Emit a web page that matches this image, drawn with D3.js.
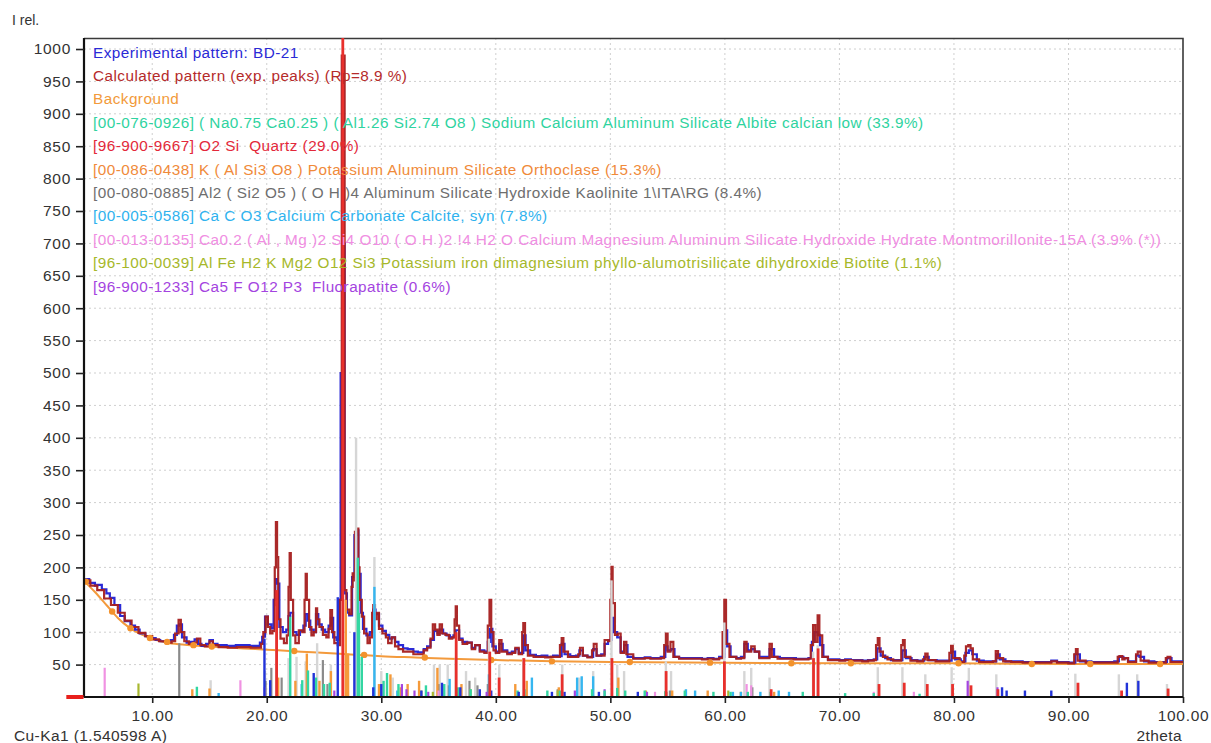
<!DOCTYPE html>
<html><head><meta charset="utf-8">
<script src="https://cdn.jsdelivr.net/npm/d3@7"></script>
<style>
html,body{margin:0;padding:0;background:#fff;}
svg{display:block;font-family:"Liberation Sans",Arial,sans-serif;}
</style></head>
<body><svg id="c" width="1211" height="743"></svg>
<script>
// ---------- DATA ----------
const legendLabels = [
  "Experimental pattern: BD-21",
  "Calculated pattern (exp. peaks) (Rp=8.9 %)",
  "Background",
  "[00-076-0926] ( Na0.75 Ca0.25 ) ( Al1.26 Si2.74 O8 ) Sodium Calcium Aluminum Silicate Albite calcian low (33.9%)",
  "[96-900-9667] O2 Si  Quartz (29.0%)",
  "[00-086-0438] K ( Al Si3 O8 ) Potassium Aluminum Silicate Orthoclase (15.3%)",
  "[00-080-0885] Al2 ( Si2 O5 ) ( O H )4 Aluminum Silicate Hydroxide Kaolinite 1\\ITA\\RG (8.4%)",
  "[00-005-0586] Ca C O3 Calcium Carbonate Calcite, syn (7.8%)",
  "[00-013-0135] Ca0.2 ( Al , Mg )2 Si4 O10 ( O H )2 !4 H2 O Calcium Magnesium Aluminum Silicate Hydroxide Hydrate Montmorillonite-15A (3.9% (*))",
  "[96-100-0039] Al Fe H2 K Mg2 O12 Si3 Potassium iron dimagnesium phyllo-alumotrisilicate dihydroxide Biotite (1.1%)",
  "[96-900-1233] Ca5 F O12 P3  Fluorapatite (0.6%)"
];
const legendColors = ["#2a2ad6","#b52a2a","#f29a3a","#2fd3a0","#e3283a","#f08a3a","#6e6e6e","#2fb2ee","#f08ee2","#a6b82a","#a444e0"];

const yTicks = [50,100,150,200,250,300,350,400,450,500,550,600,650,700,750,800,850,900,950,1000];
const xTicks = [10,20,30,40,50,60,70,80,90,100];

// experimental pattern [2theta, I]
const expPattern = [[4.0,182],[4.5,176],[5.0,172],[5.2,173],[5.6,166],[6.0,160],[6.3,153],[6.7,142],[7.2,125],[7.6,117],[8.1,110],[8.5,104],[8.9,98],[9.4,94],[9.8,91],[10.3,88],[10.7,86],[11.2,85],[11.6,88],[11.9,96],[12.15,110],[12.35,112],[12.6,92],[13.0,84],[13.4,85],[13.7,89],[14.0,82],[14.3,79],[14.7,82],[15.0,88],[15.3,82],[15.7,80],[16.5,79],[17.3,80],[17.8,80],[18.5,79],[19.1,79],[19.4,84],[19.6,93],[19.85,124],[20.1,112],[20.4,106],[20.6,150],[20.75,182],[20.9,175],[21.1,108],[21.4,100],[21.7,104],[21.9,125],[22.05,130],[22.3,100],[22.6,96],[22.9,102],[23.2,110],[23.4,128],[23.6,118],[23.8,104],[24.1,100],[24.3,128],[24.5,112],[24.8,104],[25.1,100],[25.4,110],[25.6,122],[25.8,92],[26.1,88],[26.3,150],[26.45,500],[26.58,985],[26.7,700],[26.8,160],[27.0,130],[27.2,126],[27.45,185],[27.65,250],[27.85,257],[28.0,190],[28.2,130],[28.4,105],[28.7,95],[29.0,100],[29.3,135],[29.5,128],[29.8,110],[30.1,102],[30.4,96],[30.7,90],[30.95,92],[31.2,85],[31.5,80],[31.9,75],[32.3,74],[32.8,70],[33.2,69],[33.7,74],[34.0,78],[34.3,88],[34.6,102],[34.9,98],[35.1,104],[35.4,98],[35.7,95],[36.0,92],[36.3,95],[36.5,103],[36.8,90],[37.1,85],[37.5,84],[37.9,76],[38.2,80],[38.6,72],[39.0,70],[39.3,85],[39.5,105],[39.7,78],[40.0,70],[40.3,82],[40.6,72],[41.0,68],[41.4,70],[41.7,74],[42.0,68],[42.4,95],[42.6,72],[43.0,65],[43.5,63],[44.0,64],[44.5,62],[45.0,64],[45.4,63],[45.75,82],[46.0,66],[46.5,63],[47.0,64],[47.3,72],[47.6,64],[48.0,62],[48.5,74],[48.8,64],[49.2,66],[49.5,82],[49.8,88],[50.1,122],[50.3,100],[50.6,92],[50.9,70],[51.2,80],[51.5,62],[52.0,60],[52.5,60],[53.0,61],[53.5,60],[54.0,60],[54.4,62],[54.8,78],[55.0,72],[55.3,74],[55.6,62],[56.0,60],[56.5,60],[57.0,60],[57.5,60],[58.0,59],[58.5,60],[59.0,59],[59.5,62],[59.95,103],[60.2,78],[60.5,62],[61.0,60],[61.4,62],[61.7,82],[62.0,72],[62.3,74],[62.6,70],[63.0,62],[63.5,62],[63.9,74],[64.3,62],[64.8,60],[65.5,60],[66.2,59],[66.8,59],[67.3,60],[67.6,85],[67.8,100],[68.1,96],[68.3,80],[68.6,62],[69.0,58],[69.5,58],[70.0,57],[70.5,58],[71.0,57],[71.5,57],[72.0,56],[72.5,57],[73.0,58],[73.3,75],[73.6,64],[74.0,60],[74.5,57],[75.0,57],[75.5,72],[75.8,60],[76.3,57],[76.8,56],[77.4,62],[77.8,57],[78.5,56],[79.2,56],[79.8,70],[80.1,58],[80.6,55],[81.0,68],[81.3,72],[81.6,66],[82.0,56],[82.6,55],[83.2,55],[83.7,66],[84.0,58],[84.5,55],[85.0,55],[86.0,54],[87.0,54],[88.0,54],[88.5,56],[89.0,54],[90.0,53],[90.6,66],[91.0,55],[92.0,54],[93.0,54],[94.0,55],[94.4,62],[94.8,60],[95.2,55],[95.9,64],[96.2,62],[96.6,55],[97.5,54],[98.6,60],[99.0,55],[100.0,54]];

// calculated pattern [2theta, I]
const calcPattern = [[4.0,180],[4.6,172],[5.2,165],[5.8,152],[6.4,142],[7.0,130],[7.6,118],[8.2,108],[8.8,99],[9.4,94],[10.0,89],[10.6,86],[11.2,84],[11.7,86],[12.0,98],[12.3,119],[12.5,100],[12.8,86],[13.2,82],[13.6,84],[13.9,90],[14.2,80],[14.6,78],[15.0,86],[15.3,80],[15.8,77],[16.6,76],[17.4,77],[17.9,77],[18.6,76],[19.2,76],[19.5,82],[19.7,100],[19.9,124],[20.1,108],[20.3,98],[20.5,102],[20.7,200],[20.8,270],[20.9,216],[21.0,120],[21.2,90],[21.5,83],[21.75,95],[21.9,170],[22.0,222],[22.1,150],[22.3,95],[22.5,83],[22.8,103],[23.1,100],[23.3,150],[23.4,190],[23.5,150],[23.7,108],[23.9,95],[24.1,100],[24.3,137],[24.4,120],[24.6,108],[24.9,96],[25.2,92],[25.4,105],[25.55,134],[25.7,100],[25.9,83],[26.2,80],[26.4,150],[26.55,990],[26.7,990],[26.8,165],[26.95,135],[27.2,128],[27.4,170],[27.5,191],[27.6,180],[27.7,255],[27.85,260],[28.0,200],[28.1,150],[28.3,124],[28.5,98],[28.8,83],[29.0,92],[29.2,130],[29.3,142],[29.45,120],[29.6,130],[29.8,105],[30.1,98],[30.4,92],[30.6,83],[30.9,92],[31.2,78],[31.5,74],[31.9,70],[32.3,70],[32.8,66],[33.2,66],[33.7,72],[34.0,76],[34.3,90],[34.5,112],[34.7,104],[34.9,96],[35.1,112],[35.3,98],[35.6,96],[35.9,90],[36.2,92],[36.4,120],[36.5,140],[36.6,110],[36.8,88],[37.1,82],[37.5,84],[37.9,74],[38.2,80],[38.6,70],[39.0,68],[39.3,110],[39.45,150],[39.6,100],[39.8,72],[40.0,68],[40.3,88],[40.5,70],[41.0,66],[41.4,68],[41.7,76],[42.0,66],[42.3,100],[42.4,114],[42.55,80],[42.8,64],[43.3,62],[43.8,62],[44.3,61],[44.8,62],[45.3,62],[45.6,80],[45.75,91],[45.9,70],[46.3,62],[46.8,62],[47.2,66],[47.35,76],[47.6,64],[48.0,61],[48.4,72],[48.55,82],[48.8,64],[49.2,64],[49.5,88],[49.8,86],[50.0,150],[50.1,201],[50.2,145],[50.4,96],[50.65,98],[50.9,68],[51.2,85],[51.4,66],[52.0,59],[52.5,59],[53.0,60],[53.5,59],[54.0,59],[54.4,60],[54.7,80],[54.85,98],[55.0,70],[55.25,85],[55.5,62],[56.0,59],[56.5,59],[57.0,59],[57.5,59],[58.0,58],[58.5,59],[59.0,58],[59.5,60],[59.8,100],[59.95,150],[60.1,82],[60.4,62],[61.0,59],[61.4,60],[61.7,85],[61.9,70],[62.3,78],[62.6,70],[63.0,60],[63.5,60],[63.9,82],[64.1,62],[64.6,59],[65.3,59],[66.0,58],[66.7,58],[67.3,59],[67.5,80],[67.7,111],[67.9,85],[68.1,126],[68.25,95],[68.5,62],[69.0,57],[69.5,57],[70.0,56],[70.5,57],[71.0,56],[71.5,56],[72.0,55],[72.5,56],[73.0,57],[73.2,80],[73.35,91],[73.5,70],[73.8,62],[74.2,58],[74.7,56],[75.2,56],[75.4,80],[75.55,88],[75.7,62],[76.2,56],[76.8,55],[77.3,58],[77.5,67],[77.7,57],[78.4,55],[79.1,55],[79.6,68],[79.75,79],[79.9,60],[80.5,54],[80.9,64],[81.05,78],[81.25,80],[81.45,75],[81.65,58],[82.2,54],[82.8,54],[83.4,55],[83.65,71],[83.85,60],[84.3,55],[85.0,54],[86.0,53],[87.0,53],[88.0,53],[88.5,55],[89.0,53],[90.0,52],[90.5,66],[90.65,74],[90.8,56],[91.5,53],[92.5,53],[93.5,53],[94.3,62],[94.45,63],[94.7,58],[94.9,60],[95.2,54],[95.9,66],[96.05,70],[96.3,56],[97.0,53],[98.0,53],[98.5,60],[98.65,62],[98.9,54],[100.0,53]];

// background curve and its anchor points
const bgPattern = [[4,180],[5,162],[6,142],[7,122],[8,107],[9,97],[10,90],[11,85],[12,82],[14,79],[16,77],[18,75],[20,73],[22,71],[24,69],[26,67],[28,65],[30,63],[33,61],[36,59],[40,57],[45,55],[50,54],[60,53],[70,52],[80,52],[90,51],[100,51]];
const bgAnchors = [[4.2,178],[6.5,132],[8.1,106],[9.8,91],[11.3,85],[13.6,80],[15.2,78],[22.4,71],[28.5,65],[33.8,61],[39.6,57],[44.9,55],[51.7,54],[58.7,53],[65.8,52],[71.0,52],[80.4,52],[86.8,51],[91.9,51],[98.0,51]];

// stick patterns [2theta, I]
const peakListSticks = [[15.1,26],[19.85,40],[20.85,140],[21.9,60],[22.6,62],[23.4,55],[24.4,83],[25.6,50],[27.8,400],[28.0,130],[29.4,216],[30.0,40],[31.0,30],[34.6,50],[35.1,50],[35.8,50],[36.5,60],[37.4,40],[38.2,30],[39.4,90],[40.3,50],[42.4,60],[45.8,50],[47.3,30],[48.5,40],[50.1,180],[50.6,50],[51.2,40],[54.85,55],[55.3,40],[59.95,115],[61.7,40],[62.3,45],[63.9,30],[67.7,70],[68.1,80],[73.35,46],[75.5,46],[77.5,35],[79.8,46],[81.3,45],[83.7,35],[90.6,36],[94.4,35],[96.0,35],[98.6,20]];
const blueSticks = [[19.8,90],[20.3,26],[24.1,37],[26.2,154],[27.65,100],[29.3,15],[30.0,20],[33.5,10],[35.3,22],[36.9,15],[38.6,12],[39.6,10],[42.0,8],[44.9,8],[46.0,8],[49.0,8],[52.4,8],[84.2,15],[84.6,10],[86.2,10],[88.5,10],[95.1,22],[96.1,25]];
const albiteSticks = [[13.9,16],[22.05,124],[23.1,26],[23.6,41],[24.3,30],[25.0,20],[25.5,22],[27.95,215],[28.05,130],[28.3,62],[30.2,25],[30.5,37],[31.5,20],[33.9,18],[35.5,20],[36.7,15],[37.8,12],[41.9,10],[42.5,12],[44.5,10],[45.6,10],[48.4,12],[49.5,10],[50.6,14],[51.3,10],[53.0,10],[54.8,9],[56.5,10],[59.0,8],[60.5,8],[62.0,8],[64.0,8],[66.8,8],[70.5,6],[73.0,6],[77.0,5]];
const quartzSticks = [[20.86,165],[26.64,1100],[36.54,100],[39.47,70],[40.29,30],[42.45,60],[45.79,35],[50.14,60],[54.87,40],[59.96,55],[64.04,12],[67.74,60],[68.14,75],[73.46,20],[75.66,22],[77.67,20],[79.88,20],[81.49,18],[83.84,12],[90.83,22],[94.64,10],[98.7,13]];
const orthoclaseSticks = [[13.5,12],[15.0,13],[21.0,30],[22.5,25],[23.5,67],[24.6,25],[25.6,40],[26.9,150],[27.1,67],[29.8,20],[30.8,35],[31.7,15],[32.3,20],[33.3,25],[34.9,45],[37.0,20],[41.7,20],[42.7,25],[45.5,15],[50.7,30],[53.1,10],[55.4,10],[58.5,10],[61.4,8],[64.3,8]];
const kaoliniteSticks = [[12.36,83],[19.9,25],[20.4,45],[21.3,30],[24.9,57],[25.3,20],[35.0,20],[35.9,18],[37.7,25],[38.4,18],[39.3,20],[45.4,12],[54.9,8],[55.2,10],[62.4,15]];
const calciteSticks = [[15.8,6],[23.05,20],[29.4,170],[31.4,10],[35.97,28],[39.4,35],[43.15,30],[47.1,30],[47.5,32],[48.5,32],[56.6,12],[57.4,10],[60.7,8],[61.4,8],[63.1,8],[64.7,10],[65.6,8]];
const montmorilloniteSticks = [[5.85,45],[17.7,26],[19.8,15],[35.0,10],[53.9,8],[61.9,20],[62.3,18],[73.0,8],[76.5,8]];
const biotiteSticks = [[8.8,21],[33.5,10],[34.5,8],[37.8,12],[45.4,10],[60.3,10]];
const fluorapatiteSticks = [[25.9,10],[31.8,20],[32.2,12],[32.9,10],[34.1,8],[39.2,8],[46.9,10],[49.5,12],[53.2,8],[81.2,25],[83.8,15]];

// ---------- CHART ----------
const svg = d3.select("#c");
const x = d3.scaleLinear().domain([4,100]).range([83.5,1183]);
const y = d3.scaleLinear().domain([0,1017]).range([697,38]);

svg.append("defs").append("clipPath").attr("id","clip")
  .append("rect").attr("x",83.5).attr("y",38).attr("width",1183-83.5).attr("height",697-38);

// grid
const grid = svg.append("g");
grid.selectAll("line.h").data(yTicks).join("line")
  .attr("x1",84).attr("x2",1183).attr("y1",d=>y(d)).attr("y2",d=>y(d))
  .attr("stroke","#cfcfcf").attr("stroke-width",1).attr("stroke-dasharray","2,3");
grid.selectAll("line.v").data(xTicks.filter(d=>d<100)).join("line")
  .attr("y1",38).attr("y2",697).attr("x1",d=>x(d)).attr("x2",d=>x(d))
  .attr("stroke","#cfcfcf").attr("stroke-width",1).attr("stroke-dasharray","2,3");

// frame top/right
svg.append("path").attr("d",`M84,38.5H1183V697`).attr("fill","none").attr("stroke","#3a3a3a").attr("stroke-width",1.6);

const plot = svg.append("g").attr("clip-path","url(#clip)");
const smooth = d3.line().x(d=>x(d[0])).y(d=>y(d[1])).curve(d3.curveMonotoneX);
const stepLine = d3.line().x(d=>x(d[0])).y(d=>y(d[1])).curve(d3.curveStepAfter);

// background
plot.append("path").datum(bgPattern).attr("d",smooth)
  .attr("fill","none").attr("stroke","#f39a3c").attr("stroke-width",2);

// experimental
plot.append("path").datum(expPattern).attr("d",stepLine)
  .attr("fill","none").attr("stroke","#2a2ad6").attr("stroke-width",2.2);
// calculated
plot.append("path").datum(calcPattern).attr("d",stepLine)
  .attr("fill","none").attr("stroke","#a51e1e").attr("stroke-width",2.2).attr("opacity",0.95);

// background anchors
plot.selectAll("circle.bg").data(bgAnchors).join("circle")
  .attr("cx",d=>x(d[0])).attr("cy",d=>y(d[1])).attr("r",3.2).attr("fill","#f3922c");

// sticks
function sticks(data,color,w){
  plot.append("g").selectAll("line").data(data).join("line")
    .attr("x1",d=>x(d[0])).attr("x2",d=>x(d[0]))
    .attr("y1",y(0)).attr("y2",d=>y(d[1]))
    .attr("stroke",color).attr("stroke-width",w);
}
sticks(peakListSticks,"#d6d6d6",2.4);
sticks(kaoliniteSticks,"#8a8a8a",2.2);
sticks(orthoclaseSticks,"#f59a3a",2.4);
sticks(calciteSticks,"#35b6f0",2.4);
sticks(montmorilloniteSticks,"#f092e2",2.2);
sticks(biotiteSticks,"#a8b830",2.2);
sticks(fluorapatiteSticks,"#a444e0",2.2);
sticks(albiteSticks,"#33d6a2",2.4);
sticks(blueSticks,"#2233d8",2.4);
sticks(quartzSticks,"#e8302c",2.8);

// axes
const yAxis = d3.axisLeft(y).tickValues(yTicks).tickSize(8).tickPadding(5).tickFormat(d3.format("d"));
const gy = svg.append("g").attr("transform","translate(84,0)").call(yAxis);
const xAxis = d3.axisBottom(x).tickValues(xTicks).tickSize(6).tickPadding(7).tickFormat(d3.format(".2f"));
const gx = svg.append("g").attr("transform","translate(0,697)").call(xAxis);
[gy,gx].forEach(g=>{
  g.select(".domain").attr("stroke","#111").attr("stroke-width",2.2);
  g.selectAll(".tick line").attr("stroke","#222").attr("stroke-width",1.6);
  g.selectAll(".tick text").attr("fill","#333").style("font-size","15.5px").style("letter-spacing","0.7px")
   .style("font-family","'Liberation Sans',Arial,sans-serif");
});
gx.select(".domain").attr("d","M83.5,0H1183");
gy.select(".domain").attr("d","M0,38V697");

// offset bar left of axis
svg.append("line").attr("x1",x(2.5)).attr("x2",x(4)).attr("y1",y(0)).attr("y2",y(0))
  .attr("stroke","#e8201c").attr("stroke-width",4);

// legend
svg.append("g").selectAll("text").data(legendLabels).join("text")
  .attr("x",93).attr("y",(d,i)=>57.5+i*23.4)
  .attr("fill",(d,i)=>legendColors[i])
  .style("font-size","15.3px").style("letter-spacing","0.47px").style("white-space","pre")
  .attr("xml:space","preserve")
  .text(d=>d);

// axis titles
svg.append("text").attr("x",12).attr("y",25).attr("fill","#333").style("font-size","14px").text("I rel.");
svg.append("text").attr("x",14).attr("y",741).attr("fill","#333").style("font-size","15.5px").style("letter-spacing","0.4px").text("Cu-Ka1 (1.540598 A)");
svg.append("text").attr("x",1182).attr("y",741).attr("text-anchor","end").attr("fill","#333").style("font-size","15.5px").style("letter-spacing","0.4px").text("2theta");
</script></body></html>
